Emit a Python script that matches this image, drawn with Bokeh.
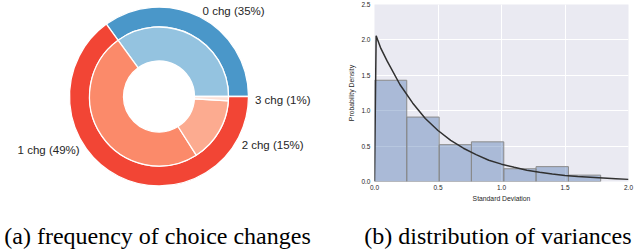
import math
from bokeh.plotting import figure
from bokeh.layouts import row, column
from bokeh.models import Range1d, FixedTicker, NumeralTickFormatter
from bokeh.core.properties import value
from bokeh.embed import file_html
from bokeh.resources import INLINE

# ---------------- data ----------------
# (a) nested pie: inner ring = number of choice changes, outer ring = unchanged / changed
inner_labels = ["0 chg", "1 chg", "2 chg", "3 chg"]
inner_pct = [35, 49, 15, 1]
inner_colors = ["#94c3e0", "#fb8a6a", "#fcab90", "#fde0d6"]
outer_labels = ["unchanged", "changed"]
outer_pct = [35, 65]
outer_colors = ["#4a97c9", "#f24535"]

# (b) histogram of standard deviations + fitted density curve
bin_edges = [0.0, 0.254, 0.509, 0.763, 1.018, 1.272, 1.527, 1.781]
bin_density = [1.43, 0.91, 0.52, 0.56, 0.18, 0.21, 0.09]
curve_x = [0.0, 0.013, 0.05, 0.1, 0.2, 0.3, 0.4, 0.5, 0.6, 0.7, 0.8, 0.9, 1.0,
           1.1, 1.2, 1.3, 1.4, 1.5, 1.6, 1.7, 1.8, 1.9, 2.0]
curve_y = [0.0, 2.06, 1.88, 1.70, 1.37, 1.11, 0.89, 0.72, 0.58, 0.47, 0.38, 0.30, 0.245,
           0.20, 0.16, 0.13, 0.105, 0.085, 0.07, 0.06, 0.05, 0.04, 0.03]
x_ticks = [0.0, 0.5, 1.0, 1.5, 2.0]
y_ticks = [0.0, 0.5, 1.0, 1.5, 2.0, 2.5]

caption_a = "(a) frequency of choice changes"
caption_b = "(b) distribution of variances"
x_label = "Standard Deviation"
y_label = "Probability Density"

TXT = "#262626"


def no_align(p):
    try:
        p.frame_align = False
    except Exception:
        pass


W, H_TOP, H_CAP = 634, 220, 30

# ---------------- (a) pie ----------------
W_L = 345
pl = figure(width=W_L, height=H_TOP, x_range=Range1d(0, W_L), y_range=Range1d(-H_TOP, 0),
            output_backend="svg", toolbar_location=None, min_border=0,
            x_axis_type=None, y_axis_type=None)
no_align(pl)
pl.grid.visible = False
pl.outline_line_color = None

cx, cy = 158.5, -96.0


def cum_angles(pcts):
    starts, ends = [], []
    acc = 0.0
    for v in pcts:
        starts.append(2 * math.pi * acc / 100.0)
        acc += v
        ends.append(2 * math.pi * acc / 100.0)
    return starts, ends


o_s, o_e = cum_angles(outer_pct)
i_s, i_e = cum_angles(inner_pct)

pl.annular_wedge(x=cx, y=cy, inner_radius=69.5, outer_radius=89.5,
                 start_angle=o_s, end_angle=o_e, fill_color=outer_colors,
                 line_color="white", line_width=1.3)
pl.annular_wedge(x=cx, y=cy, inner_radius=35.5, outer_radius=69.5,
                 start_angle=i_s, end_angle=i_e, fill_color=inner_colors,
                 line_color="white", line_width=1.3)

lab_r = 96.0
lx_l, ly_l, lt_l, lx_r, ly_r, lt_r = [], [], [], [], [], []
for name, pct, s, e in zip(inner_labels, inner_pct, i_s, i_e):
    m = (s + e) / 2
    tx = cx + lab_r * math.cos(m)
    ty = cy + lab_r * math.sin(m)
    t = f"{name} ({pct}%)"
    if math.cos(m) >= 0:
        lx_l.append(tx); ly_l.append(ty); lt_l.append(t)
    else:
        lx_r.append(tx); ly_r.append(ty); lt_r.append(t)

pl.text(x=lx_l, y=ly_l, text=lt_l, text_align="left", text_baseline="middle",
        text_font=value("Liberation Sans"), text_font_size="11.5px", text_color=TXT)
pl.text(x=lx_r, y=ly_r, text=lt_r, text_align="right", text_baseline="middle",
        text_font=value("Liberation Sans"), text_font_size="11.5px", text_color=TXT)

# ---------------- (b) histogram ----------------
W_R = W - W_L
pr = figure(width=W_R, height=H_TOP, x_range=Range1d(0, 2), y_range=Range1d(0, 2.5),
            output_backend="svg", toolbar_location=None,
            min_border_left=27, min_border_right=6, min_border_top=4, min_border_bottom=39,
            background_fill_color="#eaeaf2", border_fill_color="white")
no_align(pr)
pr.outline_line_color = None
pr.xaxis.ticker = FixedTicker(ticks=x_ticks)
pr.yaxis.ticker = FixedTicker(ticks=y_ticks)
pr.xaxis.formatter = NumeralTickFormatter(format="0.0")
pr.yaxis.formatter = NumeralTickFormatter(format="0.0")
pr.grid.grid_line_color = "white"
pr.grid.grid_line_width = 1
for ax in (pr.xaxis, pr.yaxis):
    ax.axis_line_color = None
    ax.major_tick_line_color = None
    ax.minor_tick_line_color = None
    ax.major_tick_out = 0
    ax.major_tick_in = 0
    ax.minor_tick_out = 0
    ax.minor_tick_in = 0
    ax.major_label_text_font = "Liberation Sans"
    ax.major_label_text_font_size = "6.5px"
    ax.major_label_text_color = TXT
    ax.axis_label_text_font = "Liberation Sans"
    ax.axis_label_text_font_size = "6.8px"
    ax.axis_label_text_font_style = "normal"
    ax.axis_label_text_color = TXT
pr.xaxis.axis_label = x_label
pr.yaxis.axis_label = y_label
pr.xaxis.major_label_standoff = 3
pr.xaxis.axis_label_standoff = 2
pr.yaxis.major_label_standoff = 4
pr.yaxis.axis_label_standoff = 3

pr.quad(left=bin_edges[:-1], right=bin_edges[1:], bottom=0, top=bin_density,
        fill_color="#4c72b0", fill_alpha=0.4, line_color="#8a8a8a", line_width=1)
pr.line(curve_x, curve_y, line_color="#303030", line_width=1.5)

# ---------------- captions strip ----------------
pc = figure(width=W, height=H_CAP, x_range=Range1d(0, W), y_range=Range1d(-H_TOP - H_CAP, -H_TOP),
            output_backend="svg", toolbar_location=None, min_border=0,
            x_axis_type=None, y_axis_type=None)
no_align(pc)
pc.grid.visible = False
pc.outline_line_color = None
pc.text(x=[157], y=[-235], text=[caption_a], text_align="center",
        text_baseline="middle", text_font=value("Liberation Serif"),
        text_font_size="24px", text_color="black")
pc.text(x=[631], y=[-235], text=[caption_b], text_align="right",
        text_baseline="middle", text_font=value("Liberation Serif"),
        text_font_size="24px", text_color="black")

layout = column(row(pl, pr), pc)
open("out.html", "w").write(file_html(layout, INLINE))
